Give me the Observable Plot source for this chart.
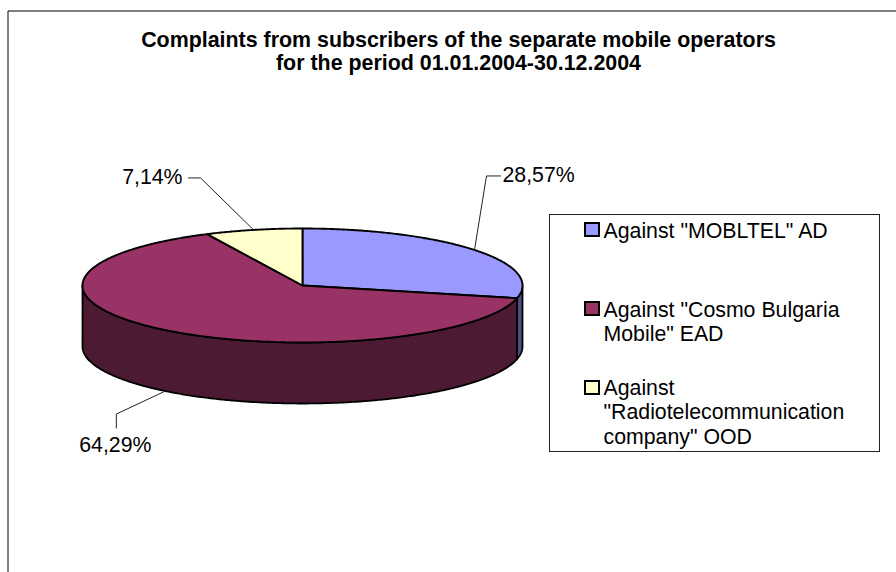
<!DOCTYPE html>
<html>
<head>
<meta charset="utf-8">
<script src="https://cdn.jsdelivr.net/npm/d3@7"></script>
<script src="https://cdn.jsdelivr.net/npm/@observablehq/plot@0.6"></script>
<style>
  html, body { margin: 0; padding: 0; background: #fff; }
</style>
</head>
<body>
<div id="chart"></div>
<script>
// Share of complaints per operator, in percent
const operators = ['Against "MOBLTEL" AD', 'Against "Cosmo Bulgaria\nMobile" EAD', 'Against\n"Radiotelecommunication\ncompany" OOD'];
const shares = [28.57, 64.29, 7.14];
const colors = ["#9999ff", "#993366", "#ffffcc"];
const titleLines = "Complaints from subscribers of the separate mobile operators\nfor the period 01.01.2004-30.12.2004";

const width = 896, height = 572;

// Disc geometry on the page
const pie = {cx: 302, cy: 285, rx: 220, ry: 57, depth: 61};
const rim = (deg, drop = 0) => {
  const a = deg * Math.PI / 180;
  return {x: pie.cx + pie.rx * Math.sin(a), y: pie.cy - pie.ry * Math.cos(a) + drop};
};
const arc = (from, to, drop = 0) => {
  const n = Math.max(2, Math.ceil(Math.abs(to - from) * 2));
  return d3.range(n + 1).map(i => rim(from + (to - from) * i / n, drop));
};
const shade = c => {
  const {r, g, b} = d3.rgb(c);
  return d3.rgb(r / 2, g / 2, b / 2).formatHex();
};

// Slices run clockwise from twelve o'clock
const total = d3.sum(shares);
let running = 0;
const slices = shares.map((v, i) => {
  const start = running / total * 360;
  running += v;
  return {i, value: v, start, end: running / total * 360, mid: (start + running / total * 360) / 2};
});

const tops = slices.flatMap(s =>
  [{x: pie.cx, y: pie.cy}, ...arc(s.start, s.end), {x: pie.cx, y: pie.cy}]
    .map(p => ({...p, id: s.i, fill: colors[s.i]})));

// Only the front half of the rim shows
const walls = slices.flatMap(s => {
  const a = Math.max(s.start, 90), b = Math.min(s.end, 270);
  if (a >= b) return [];
  const ring = [...arc(a, b), ...arc(b, a, pie.depth)];
  return [...ring, ring[0]].map(p => ({...p, id: s.i, fill: shade(colors[s.i])}));
});

// Leader lines and labels: offsets are in pixels from the rim anchor of each slice
const leaderBends = [
  {drop: 0, elbow: [12, -74], end: [26, -74], text: [28, -67.5], anchor: "start"},
  {drop: pie.depth, elbow: [-49, 23], end: [-49, 37], text: [-50, 61], anchor: "middle"},
  {drop: 0, elbow: [-53, -52], end: [-65, -52], text: [-71, -46], anchor: "end"}
];
const leaders = slices.flatMap(s => {
  const b = leaderBends[s.i], p = rim(s.mid, b.drop);
  return [p, {x: p.x + b.elbow[0], y: p.y + b.elbow[1]}, {x: p.x + b.end[0], y: p.y + b.end[1]}]
    .map(q => ({...q, id: s.i}));
});
const pctLabels = slices.map(s => {
  const b = leaderBends[s.i], p = rim(s.mid, b.drop);
  return {x: p.x + b.text[0], y: p.y + b.text[1], label: s.value.toFixed(2).replace(".", ",") + "%", anchor: b.anchor};
});

// Legend panel
const legendBox = {x1: 549.5, x2: 879.5, y1: 214.5, y2: 451.5};
const legendRows = [
  {top: 223, baseline: 237},
  {top: 302, baseline: 340.5},
  {top: 381, baseline: 443}
].map((r, i) => ({...r, label: operators[i], fill: colors[i]}));

const labelSize = 21.3;

const chart = Plot.plot({
  width, height,
  margin: 0,
  x: {domain: [0, width], range: [0, width], axis: null},
  y: {domain: [0, height], range: [0, height], axis: null},
  color: {type: "identity"},
  style: {fontFamily: "'Liberation Sans', Arial, sans-serif", background: "#fff", color: "#000"},
  marks: [
    // Outer frame, cut by the page on the right and at the bottom
    Plot.line([{x: 7.5, y: height}, {x: 7.5, y: 10.5}, {x: width, y: 10.5}], {x: "x", y: "y", stroke: "#000", strokeWidth: 1}),
    Plot.text([titleLines], {x: () => 458, y: () => 69, text: d => d, fontSize: 21.4, fontWeight: "bold",
      textAnchor: "middle", lineAnchor: "bottom", lineHeight: 1.03, fill: "#000"}),

    // Disc
    Plot.line(walls, {x: "x", y: "y", z: "id", fill: "fill", stroke: "#000", strokeWidth: 1.8, curve: "linear"}),
    Plot.line(tops, {x: "x", y: "y", z: "id", fill: "fill", stroke: "#000", strokeWidth: 1.9, curve: "linear"}),

    // Leaders and percentage labels
    Plot.line(leaders, {x: "x", y: "y", z: "id", stroke: "#222", strokeWidth: 1, curve: "linear"}),
    ...["start", "middle", "end"].map(anchor =>
      Plot.text(pctLabels.filter(d => d.anchor === anchor), {x: "x", y: "y", text: "label", textAnchor: anchor,
        fontSize: labelSize, fill: "#000", lineAnchor: "bottom"})),

    // Legend
    Plot.rect([legendBox], {x1: "x1", x2: "x2", y1: "y1", y2: "y2", fill: "#fff", stroke: "#222", strokeWidth: 1}),
    Plot.rect(legendRows, {x1: () => 585, x2: () => 599, y1: d => d.top, y2: d => d.top + 13, fill: "fill", stroke: "#000", strokeWidth: 2}),
    Plot.text(legendRows, {x: () => 603, y: "baseline", text: "label", fontSize: labelSize, textAnchor: "start",
      lineAnchor: "bottom", lineHeight: 1.14, fill: "#000"})
  ]
});
document.getElementById("chart").append(chart);
</script>
</body>
</html>
